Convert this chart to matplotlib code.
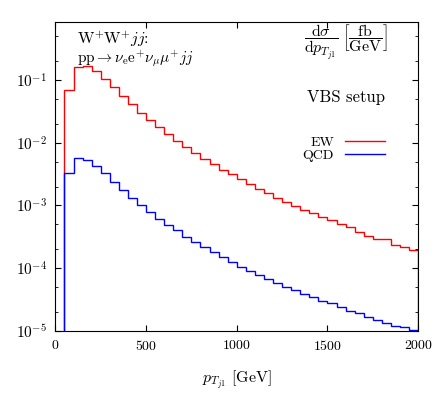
import numpy as np
import matplotlib
matplotlib.use("Agg")
import matplotlib.pyplot as plt
from matplotlib.ticker import LogLocator, NullFormatter

plt.rcParams['font.family'] = 'serif'
plt.rcParams['font.serif'] = ['cmr10']
plt.rcParams['mathtext.fontset'] = 'cm'
plt.rcParams['axes.formatter.use_mathtext'] = True
plt.rcParams['font.size'] = 10

# bin edges in GeV (50 GeV bins, first bin empty)
edges = np.arange(50, 2001, 50)

# dsigma/dpT_j1 in fb/GeV
ew = [0.069, 0.163, 0.167, 0.141, 0.104, 0.076, 0.056, 0.041, 0.030, 0.023,
      0.018, 0.0139, 0.0108, 0.00865, 0.00695, 0.00557, 0.00465, 0.00373, 0.00314, 0.00262,
      0.0022, 0.00185, 0.00156, 0.00133, 0.00115, 0.00098, 0.00085, 0.00075, 0.000664, 0.000588,
      0.000507, 0.00045, 0.000374, 0.000327, 0.000289, 0.000289, 0.000234, 0.000216, 0.000195]
qcd = [0.00326, 0.00565, 0.00531, 0.00431, 0.00326, 0.00239, 0.00177, 0.00133, 0.00102, 0.000796,
       0.000609, 0.000489, 0.000404, 0.00032, 0.000262, 0.000214, 0.00018, 0.00015, 0.000126, 0.000106,
       9.1e-05, 7.72e-05, 6.67e-05, 5.76e-05, 5.08e-05, 4.5e-05, 3.89e-05, 3.45e-05, 3.04e-05, 2.77e-05,
       2.39e-05, 2.11e-05, 1.92e-05, 1.69e-05, 1.5e-05, 1.36e-05, 1.22e-05, 1.17e-05, 1.04e-05]

fig = plt.figure(figsize=(4.36, 3.94), dpi=100)
ax = fig.add_axes([0.127, 0.16, 0.832, 0.785])

ax.stairs(ew, edges, baseline=1e-8, color='#ff0000', lw=1.0, label='EW')
ax.stairs(qcd, edges, baseline=1e-8, color='#0000ff', lw=1.0, label='QCD')

ax.set_yscale('log')
ax.set_xlim(0, 2000)
ax.set_ylim(1e-5, 0.85)
ax.set_xticks([0, 500, 1000, 1500, 2000])
ax.yaxis.set_major_locator(LogLocator(base=10, numticks=10))
ax.yaxis.set_minor_locator(LogLocator(base=10, subs=[2, 5], numticks=10))
ax.yaxis.set_minor_formatter(NullFormatter())
ax.tick_params(which='both', direction='in', top=True, right=True)
ax.tick_params(which='major', length=4, pad=6)
ax.tick_params(axis='y', which='major', labelsize=11, pad=6)
ax.tick_params(which='minor', length=2.5)

ax.set_xlabel(r'$p_{T_{j1}}$ [GeV]', fontsize=11.5, labelpad=11)

ax.text(0.06, 0.975, r'$\mathrm{W}^{+}\mathrm{W}^{+}jj$:', transform=ax.transAxes,
        ha='left', va='top', fontsize=11.5)
ax.text(0.06, 0.915, r'$\mathrm{pp}\to\nu_\mathrm{e}\mathrm{e}^{+}\nu_\mu\mu^{+}jj$',
        transform=ax.transAxes, ha='left', va='top', fontsize=11)
ax.text(0.917, 0.995, r'$\dfrac{\mathrm{d}\sigma}{\mathrm{d}p_{T_{j1}}}\;\left[\dfrac{\mathrm{fb}}{\mathrm{GeV}}\right]$',
        transform=ax.transAxes, ha='right', va='top', fontsize=11.5)
ax.text(0.91, 0.755, 'VBS setup', transform=ax.transAxes, ha='right', va='center',
        fontsize=12)

ax.legend(loc='upper right', bbox_to_anchor=(0.91, 0.63), frameon=False,
          markerfirst=False, handlelength=2.9, borderpad=0, borderaxespad=0,
          labelspacing=0.05, handletextpad=0.8)

fig.savefig('out.png', dpi=100)
